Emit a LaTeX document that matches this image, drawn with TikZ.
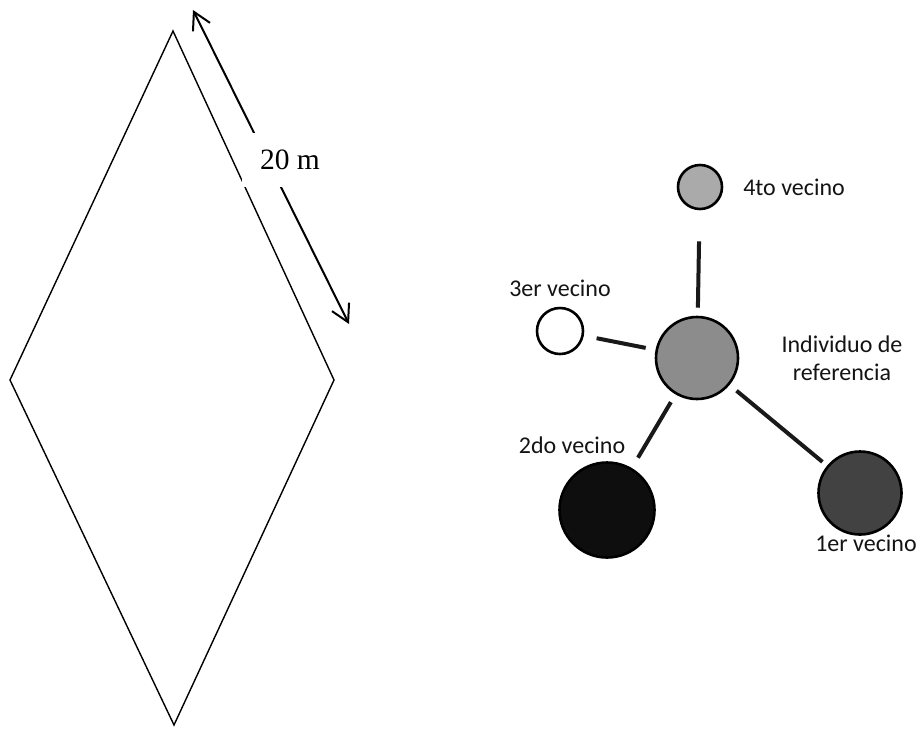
\documentclass[tikz,border=0pt]{standalone}
\usepackage{fontspec}
\setmainfont{Liberation Serif}
\newfontfamily\calib{Carlito}
\usetikzlibrary{arrows.meta}
\definecolor{gfour}{RGB}{170,170,170}
\definecolor{gref}{RGB}{140,140,140}
\definecolor{gone}{RGB}{66,66,66}
\definecolor{gtwo}{RGB}{14,14,14}
\definecolor{txt}{RGB}{20,20,20}
\tikzset{
  plot/.style={draw=black,line width=1.4pt},
  dimarrow/.style={line width=2pt,{Straight Barb[length=17pt,width=19pt]}-{Straight Barb[length=17pt,width=19pt]}},
  dimlabel/.style={fill=white,inner sep=0pt,minimum width=96pt,minimum height=54pt,font=\fontsize{29.5}{32}\selectfont},
  ind/.style={circle,draw=black,line width=2.6pt,inner sep=0pt},
  link/.style={line width=4pt,draw=black!90},
  lbl/.style={font=\calib\fontsize{24}{28}\selectfont,text=txt,inner sep=0pt,align=center}
}
\begin{document}
\begin{tikzpicture}[x=1pt,y=-1pt]
\useasboundingbox (0,0) rectangle (920,729);
% diamond plot
\coordinate (dt) at (173,31);
\coordinate (dr) at (334,380);
\coordinate (db) at (174,725);
\coordinate (dl) at (10,380);
\draw[plot,line join=miter] (dt) -- (dr) -- (db) -- (dl) -- cycle;
\coordinate (a1) at (193,10);
\coordinate (a2) at (349,324);
\draw[dimarrow] (a1) -- (a2);
\node[dimlabel] (dim) at (290,160) {20 m};
% neighbour diagram
\node[ind,fill=gref,minimum size=82pt] (ref) at (697,358) {};
\node[ind,fill=gfour,minimum size=44pt] (n4) at (700,187) {};
\node[ind,fill=white,minimum size=46pt] (n3) at (560,331) {};
\node[ind,fill=gtwo,minimum size=95pt] (n2) at (607,510) {};
\node[ind,fill=gone,minimum size=83pt] (n1) at (860,493) {};
\draw[link,shorten <=8pt,shorten >=31pt] (ref) -- (n4);
\draw[link,shorten <=10pt,shorten >=13pt] (ref) -- (n3);
\draw[link,shorten <=9pt,shorten >=12pt] (ref) -- (n2);
\draw[link,shorten <=9pt,shorten >=6pt] (ref) -- (n1);
\node[lbl] (l4) at (794,187) {4to vecino};
\node[lbl] (l3) at (560,288) {3er vecino};
\node[lbl] (lr) at (842,358) {Individuo de\\referencia};
\node[lbl] (l2) at (572,445) {2do vecino};
\node[lbl] (l1) at (866,543) {1er vecino};
\end{tikzpicture}
\end{document}
